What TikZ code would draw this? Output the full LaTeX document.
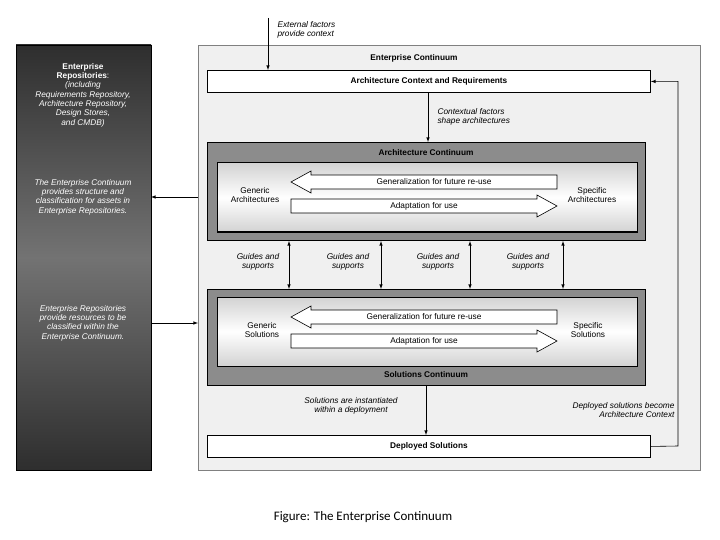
\documentclass[tikz,border=0pt]{standalone}
\usepackage{fontspec}
\setmainfont{Liberation Sans}
\newfontfamily\capfont{Carlito}
\usetikzlibrary{positioning, calc}
\definecolor{paneldark}{gray}{0.18}
\definecolor{panelmid}{gray}{0.45}
\definecolor{boxgray}{gray}{0.55}
\definecolor{outerfill}{gray}{0.94}
% one unit is one pixel of the reference
\newcommand{\myLeftArrow}[4]{% x-left, x-right, y-top, y-bottom
  \draw[my flow] (#1,{(#3+#4)/2}) -- (#1+20,#3-4) -- (#1+20,#3) -- (#2,#3)
    -- (#2,#4) -- (#1+20,#4) -- (#1+20,#4+4) -- cycle;}
\newcommand{\myRightArrow}[4]{%
  \draw[my flow] (#2,{(#3+#4)/2}) -- (#2-20,#3-4) -- (#2-20,#3) -- (#1,#3)
    -- (#1,#4) -- (#2-20,#4) -- (#2-20,#4+4) -- cycle;}
\begin{document}
\begin{tikzpicture}[x=1pt, y=-1pt,
                    font=\fontsize{8.3}{9.3}\selectfont,
                    my box/.style={draw, line width=0.9pt, fill=white},
                    my band/.style={draw, line width=1pt, fill=boxgray},
                    my inner/.style={draw, line width=1pt,
                      top color=gray!35, bottom color=gray!35, middle color=white},
                    my flow/.style={draw, line width=0.6pt, fill=white},
                    my note/.style={font=\fontsize{8.3}{9.3}\selectfont\itshape,
                      align=center},
                    my arrow/.style={-latex, line width=0.6pt},
                    my title/.style={font=\fontsize{8.3}{9.3}\selectfont\bfseries}]
\useasboundingbox (0,0) rectangle (720,540);

% left repository panel
\path[top color=paneldark, bottom color=paneldark, middle color=panelmid,
      draw=black] (16,45) rectangle (151,470);
\coordinate (repo top) at (151,197);
\coordinate (repo low) at (151,323);
\node[my note, text=white, font=\fontsize{8.3}{9.3}\selectfont] at (83,95)
  {\textbf{Enterprise}\\\textbf{Repositories}:\\\textit{(including}\\
   \textit{Requirements Repository,}\\\textit{Architecture Repository,}\\
   \textit{Design Stores,}\\\textit{and CMDB)}};
\node[my note, text=white] at (83,197)
  {The Enterprise Continuum\\provides structure and\\
   classification for assets in\\Enterprise Repositories.};
\node[my note, text=white] at (83,323)
  {Enterprise Repositories\\provide resources to be\\
   classified within the\\Enterprise Continuum.};

% enterprise continuum frame
\draw[fill=outerfill, draw=gray] (198,45) rectangle (700,470);
\node[my title] (ec) at (414,58) {Enterprise Continuum};

\node[my box, minimum width=443, minimum height=22, anchor=north west]
  (context) at (207,70) {\textbf{Architecture Context and Requirements}};
\node[my box, minimum width=443, minimum height=22, anchor=north west]
  (deployed) at (207,435) {\textbf{Deployed Solutions}};

% architecture continuum
\node[my band, minimum width=438, minimum height=98, anchor=north west]
  (arch) at (207,142) {};
\node[my title] at (426,153) {Architecture Continuum};
\path[my inner] (217,163) rectangle (637,232);
\myLeftArrow{291}{557}{175}{189}
\myRightArrow{291}{557}{199}{213}
\node at (434,182) {Generalization for future re-use};
\node at (424,206) {Adaptation for use};
\node[align=center] at (255,195) {Generic\\Architectures};
\node[align=center] at (592,195) {Specific\\Architectures};

% solutions continuum
\node[my band, minimum width=438, minimum height=96, anchor=north west]
  (sol) at (207,289) {};
\node[my title] at (426,375) {Solutions Continuum};
\path[my inner] (217,297) rectangle (637,366);
\myLeftArrow{291}{557}{310}{324}
\myRightArrow{291}{557}{334}{348}
\node at (424,317) {Generalization for future re-use};
\node at (424,341) {Adaptation for use};
\node[align=center] at (262,330) {Generic\\Solutions};
\node[align=center] at (588,330) {Specific\\Solutions};

% guides and supports
\foreach \gx/\tx in {289/258, 381/348, 470/438, 563/528} {
  \draw[latex-latex, line width=0.6pt] (arch.south -| \gx,0) -- (sol.north -| \gx,0);
  \node[my note] at (\tx,262) {Guides and\\supports};
}

% external and contextual factors
\coordinate (ext) at (268,18);
\draw[my arrow] (ext) -- (ext |- context.north);
\node[my note, align=left, anchor=west] at (274,30)
  {External factors\\provide context};
\draw[my arrow] (context.south -| 428,0) -- (arch.north -| 428,0);
\node[my note, align=left, anchor=west] at (434,117)
  {Contextual factors\\shape architectures};

% deployment
\draw[my arrow] (sol.south -| 426,0) -- (deployed.north -| 426,0);
\node[my note] at (351,406) {Solutions are instantiated\\within a deployment};
\coordinate (loop) at (678,446);
\draw[my arrow] (deployed.east) -- (loop) -- (loop |- context.east)
  -- (context.east);
\node[my note, align=right, anchor=east] at (678,410)
  {Deployed solutions become\\Architecture Context};

% repositories links
\draw[my arrow] (198,197) -- (repo top);
\draw[my arrow] (repo low) -- (198,323);

\node[font=\capfont\fontsize{13}{15}\selectfont] (caption) at (363,517)
  {Figure: The Enterprise Continuum};
\end{tikzpicture}
\end{document}
